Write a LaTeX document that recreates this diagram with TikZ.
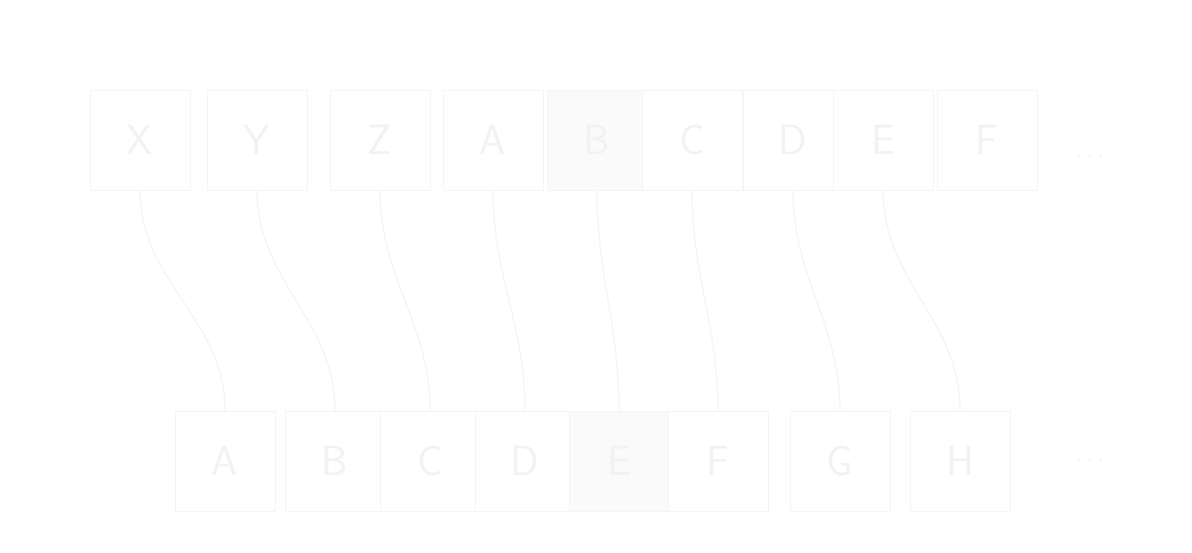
\documentclass[tikz,border=0pt]{standalone}
\usepackage{tikz}
\usetikzlibrary{arrows.meta}

\tikzset{
  cellbox/.style={draw=black!4,fill=white,minimum width=2cm,minimum height=2cm,
                  font=\sffamily\fontsize{24}{28}\selectfont,text=black!5,inner sep=0pt},
  cellhi/.style={cellbox,fill=black!2},
  linkline/.style={draw=black!4,line width=.8pt}
}

\begin{document}
\begin{tikzpicture}[x=0.02cm,y=-0.02cm]
	\useasboundingbox (0,0) rectangle (1192,553);

	% top row
	\node[cellbox] at (140,140) (tX) {X};
	\node[cellbox] at (257,140) (tY) {Y};
	\node[cellbox] at (380,140) (tZ) {Z};
	\node[cellbox] at (493,140) (tA) {A};
	\node[cellhi]  at (597,140) (tB) {B};
	\node[cellbox] at (692,140) (tC) {C};
	\node[cellbox] at (793,140) (tD) {D};
	\node[cellbox] at (883,140) (tE) {E};
	\node[cellbox] at (987,140) (tF) {F};
	\node[text=black!5,font=\Large] at (1090,157) (tdots) {$\cdots$};

	% bottom row
	\node[cellbox] at (225,461) (bA) {A};
	\node[cellbox] at (335,461) (bB) {B};
	\node[cellbox] at (430,461) (bC) {C};
	\node[cellbox] at (525,461) (bD) {D};
	\node[cellhi]  at (619,461) (bE) {E};
	\node[cellbox] at (718,461) (bF) {F};
	\node[cellbox] at (840,461) (bG) {G};
	\node[cellbox] at (960,461) (bH) {H};
	\node[text=black!5,font=\Large] at (1090,461) (bdots) {$\cdots$};

	% links
	\foreach \a/\b in {tX/bA,tY/bB,tZ/bC,tA/bD,tB/bE,tC/bF,tD/bG,tE/bH}
	    \draw[linkline] (\a.south) to[out=-90,in=90] (\b.north);
\end{tikzpicture}
\end{document}
